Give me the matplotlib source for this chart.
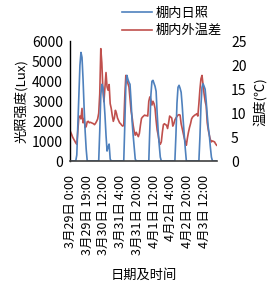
import numpy as np
import matplotlib
matplotlib.use('Agg')
import matplotlib.pyplot as plt

plt.rcParams['font.family'] = ['Noto Sans CJK SC', 'DejaVu Sans']

# light inside the greenhouse (Lux), one value per record
light = [0, 0, 0, 0, 0, 0, 300, 1800, 3300, 4800, 5450, 5200, 4100, 2700, 1500, 600,
         0, 0, 0, 0, 0, 0, 0, 0, 0, 0, 0, 0, 1500, 3300, 3850, 3700, 3100, 2300, 1300, 500,
         700, 850, 100, 0, 0, 0, 0, 0, 0, 0, 0, 0, 0, 0, 0, 0, 1800, 3800, 4300, 4100,
         3950, 3850, 3000, 2000, 1300, 700, 100, 0, 0, 0, 0, 0, 0, 0, 0, 0, 0, 0, 0, 0,
         1600, 3300, 4000, 4050, 3900, 3750, 3500, 2400, 1500, 800, 200, 0, 0, 0, 0, 0,
         0, 0, 0, 0, 0, 0, 0, 0, 0, 1300, 2900, 3700, 3800, 3650, 3450, 2800, 2000, 1300,
         600, 0, 0, 0, 0, 0, 0, 0, 0, 0, 0, 0, 0, 0, 1200, 2800, 3700, 3880, 3750, 3600,
         3000, 2300, 1700, 1300, 700, 200, 0, 0, 0, 0, 0]

# inside/outside temperature difference (C)
tdiff = [6.1, 5.6, 5.0, 4.6, 4.2, 3.8, 3.5, 6.5, 9.2, 9.4, 8.8, 11.0, 8.0, 8.9, 7.0, 7.2,
         8.2, 8.3, 8.0, 8.1, 8.0, 7.9, 7.8, 7.6, 7.9, 8.3, 8.8, 10.0, 14.0, 23.5, 20.5, 15.0,
         12.4, 15.5, 18.5, 15.5, 14.8, 16.0, 12.0, 11.0, 9.5, 8.3, 9.0, 10.6, 10.0, 9.0,
         8.5, 8.0, 7.8, 7.5, 7.3, 7.5, 13.5, 17.9, 16.8, 16.2, 15.5, 13.0, 10.5, 9.2, 7.5,
         6.2, 5.4, 6.0, 5.5, 5.1, 5.8, 7.5, 8.9, 9.2, 9.4, 9.6, 9.5, 9.5, 9.4, 12.5, 13.4,
         12.8, 11.7, 12.5, 12.0, 11.0, 8.5, 6.5, 5.4, 4.0, 3.5, 4.0, 6.0, 7.6, 7.8, 7.6,
         7.5, 6.8, 8.0, 9.4, 9.2, 9.0, 7.3, 7.8, 8.6, 9.0, 9.3, 9.6, 9.7, 9.6, 7.8, 6.8,
         5.8, 4.8, 4.0, 3.3, 4.8, 6.0, 7.0, 7.8, 8.8, 9.2, 9.4, 9.6, 9.7, 9.9, 9.4, 12.0,
         15.0, 17.2, 17.9, 16.0, 14.0, 12.5, 11.5, 8.0, 6.5, 5.4, 4.5, 4.0, 4.2, 4.1, 4.0,
         3.6, 3.3]

tick_labels = ['3月29日 0:00', '3月29日 19:00', '3月30日 12:00', '3月31日 4:00',
               '3月31日 20:00', '4月1日 12:00', '4月2日 4:00', '4月2日 20:00',
               '4月3日 12:00']
label_step = 16

x = np.arange(len(light))

fig = plt.figure(figsize=(2.74, 2.86), dpi=100)
ax1 = fig.add_axes([0.2555, 0.437, 0.537, 0.418])
ax2 = ax1.twinx()

l1, = ax1.plot(x, light, color='#4F81BD', lw=1.2, label='棚内日照')
l2, = ax2.plot(x, tdiff, color='#C0504D', lw=1.2, label='棚内外温差')

ax1.set_xlim(-0.5, len(x) - 0.5)
ax1.set_ylim(0, 6000)
ax1.set_yticks(np.arange(0, 6001, 1000))
ax2.set_ylim(0, 25)
ax2.set_yticks(np.arange(0, 26, 5))

ax1.set_xticks(x[::label_step][:len(tick_labels)])
ax1.set_xticklabels(tick_labels, rotation=90)
ax1.tick_params(axis='y', length=0, labelsize=10, pad=5)
ax1.tick_params(axis='x', length=0, labelsize=9, pad=10)
ax2.tick_params(axis='y', length=0, labelsize=10, pad=10)

for ax in (ax1, ax2):
    ax.spines['top'].set_visible(False)
    ax.spines['right'].set_visible(False)
ax2.spines['left'].set_visible(False)
ax2.spines['bottom'].set_visible(False)
ax1.spines['left'].set_color('black')
ax1.spines['left'].set_linewidth(1.0)
ax1.spines['bottom'].set_color('#404040')
ax1.spines['bottom'].set_linewidth(1.2)
ax1.set_zorder(ax2.get_zorder() + 1)
ax1.patch.set_visible(False)

ax1.set_ylabel('光照强度(Lux)', fontsize=9.5, labelpad=3)
ax2.set_ylabel('温度(℃)', fontsize=9.5, labelpad=5)
ax1.set_xlabel('日期及时间', fontsize=9.5, labelpad=10)

fig.legend(handles=[l1, l2], loc='upper left', bbox_to_anchor=(0.42, 1.0),
           frameon=False, fontsize=9.5, handlelength=2.3, handletextpad=0.3,
           labelspacing=0.35, borderaxespad=0.1)

fig.savefig('out.png', dpi=100)
